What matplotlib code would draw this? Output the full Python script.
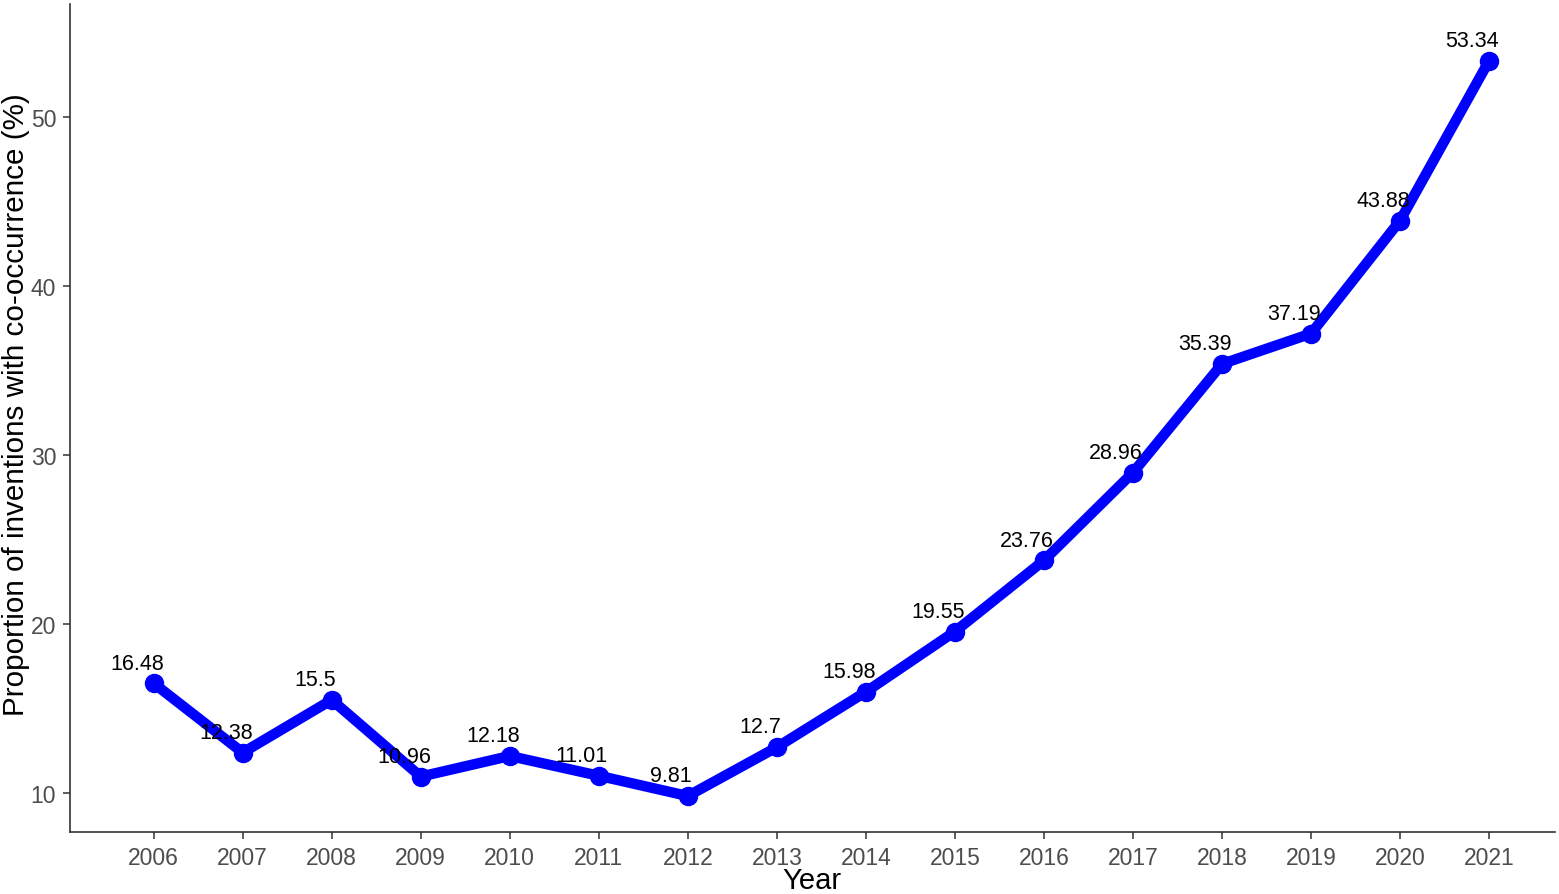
import matplotlib
matplotlib.use("Agg")
import matplotlib.pyplot as plt

plt.rcParams['font.family'] = ['Liberation Sans', 'DejaVu Sans']

years = [2006, 2007, 2008, 2009, 2010, 2011, 2012, 2013,
         2014, 2015, 2016, 2017, 2018, 2019, 2020, 2021]
share = [16.48, 12.38, 15.5, 10.96, 12.18, 11.01, 9.81, 12.7,
         15.98, 19.55, 23.76, 28.96, 35.39, 37.19, 43.88, 53.34]
labels = ["16.48", "12.38", "15.5", "10.96", "12.18", "11.01", "9.81", "12.7",
          "15.98", "19.55", "23.76", "28.96", "35.39", "37.19", "43.88", "53.34"]
y_ticks = [10, 20, 30, 40, 50]

W, H = 1559, 895
fig = plt.figure(figsize=(W / 100, H / 100), dpi=100)
ax = fig.add_axes([70 / W, 1 - 833 / H, (1555 - 70) / W, (833 - 5) / H])

ax.plot(years, share, color='#0000FF', linewidth=7.5, marker='o',
        markersize=13, solid_capstyle='round', solid_joinstyle='round', zorder=2)

for x, y, s in zip(years, share, labels):
    ax.text(x - 0.19, y + 1.2, s, ha='center', va='center', fontsize=15.5,
            color='black', zorder=3)

ax.set_xlim(2005.06, 2021.74)
ax.set_ylim(7.68, 56.7)
ax.set_xticks(years)
ax.set_xticklabels([str(y) for y in years])
ax.set_yticks(y_ticks)

for side in ['top', 'right']:
    ax.spines[side].set_visible(False)
for side in ['left', 'bottom']:
    ax.spines[side].set_color('#333333')
    ax.spines[side].set_linewidth(1.2)

ax.tick_params(axis='both', colors='#333333', length=5, width=1.1,
               labelsize=16.5, labelcolor='#4D4D4D', pad=5)

# axis titles placed by hand, they sit right at the image edges
fig.text(812 / W, 1 - 881 / H, 'Year', fontsize=21, ha='center', va='center')
fig.text(16 / W, 1 - 405 / H, 'Proportion of inventions with co-occurrence (%)',
         fontsize=21.3, rotation=90, ha='center', va='center')

fig.savefig('out.png', dpi=100)
